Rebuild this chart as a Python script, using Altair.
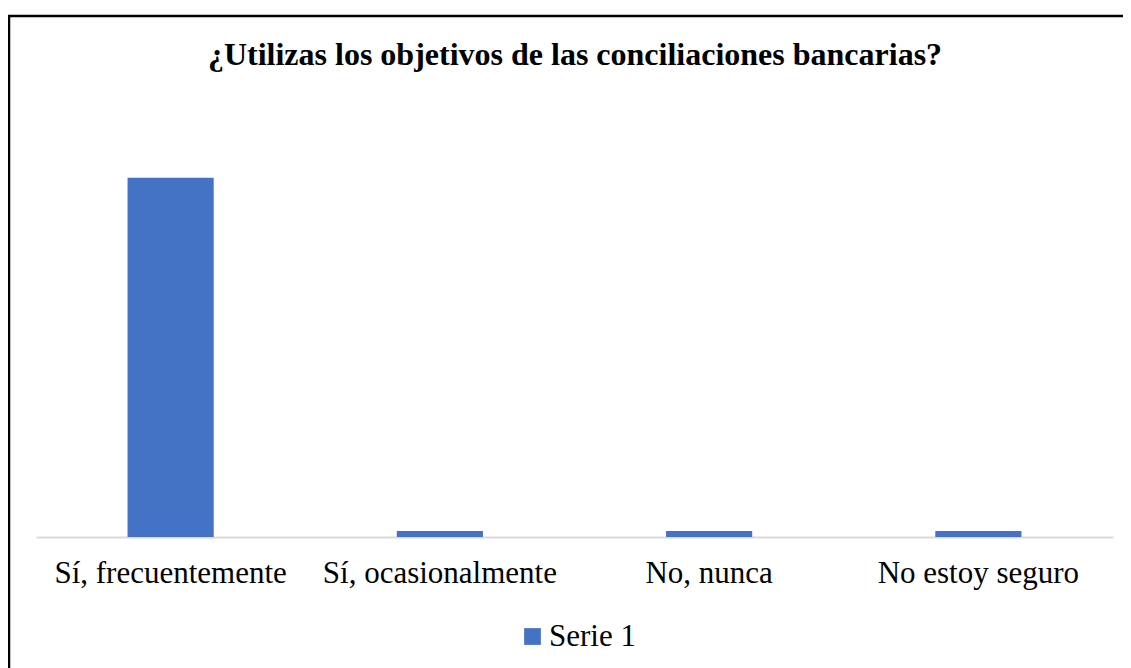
import altair as alt
import pandas as pd

categories = ["Sí, frecuentemente", "Sí, ocasionalmente", "No, nunca", "No estoy seguro"]
values = [60, 1, 1, 1]
series = ["Serie 1"] * 4
title_text = "¿Utilizas los objetivos de las conciliaciones bancarias?"

df = pd.DataFrame({"categoria": categories, "valor": values, "serie": series})

FONT = "Liberation Serif"

bars = alt.Chart(df).mark_bar(color="#4472C4").encode(
    x=alt.X("categoria:N", sort=categories, title=None,
            scale=alt.Scale(paddingInner=0.68, paddingOuter=0.34),
            axis=alt.Axis(labelAngle=0, labelFont=FONT, labelFontSize=31,
                          labelColor="#000000", labelPadding=21, ticks=False,
                          labelLimit=0, domainColor="#d9d9d9", domainWidth=2, grid=False)),
    y=alt.Y("valor:Q", title=None, scale=alt.Scale(domain=[0, 70]), axis=None),
    color=alt.Color("serie:N", scale=alt.Scale(range=["#4472C4"]),
                    legend=alt.Legend(title=None, orient="none", legendX=481, legendY=503,
                                      labelFont=FONT, labelFontSize=31, labelColor="#000000",
                                      symbolType="square", symbolSize=280,
                                      symbolStrokeWidth=0, labelOffset=1, padding=0)),
)

title_df = pd.DataFrame({"t": [title_text]})
title = alt.Chart(title_df).mark_text(font=FONT, fontSize=32, fontWeight="bold",
                                      color="#000000", align="center",
                                      baseline="alphabetic").encode(
    text="t:N", x=alt.value(539), y=alt.value(-53)
)

top_line = alt.Chart(title_df).mark_rule(color="#000000", strokeWidth=2.5).encode(
    x=alt.value(-28), x2=alt.value(1090), y=alt.value(-102)
)
left_line = alt.Chart(title_df).mark_rule(color="#000000", strokeWidth=2.5).encode(
    x=alt.value(-27), y=alt.value(-103), y2=alt.value(560)
)

chart = alt.layer(top_line, left_line, title, bars).properties(
    width=1077, height=419,
    autosize=alt.AutoSizeParams(type="none"),
    padding={"left": 28, "top": 110, "right": 10, "bottom": 131},
    background="white",
).configure_view(stroke=None)

chart.save("out.html", embed_options={"renderer": "svg", "actions": False})
